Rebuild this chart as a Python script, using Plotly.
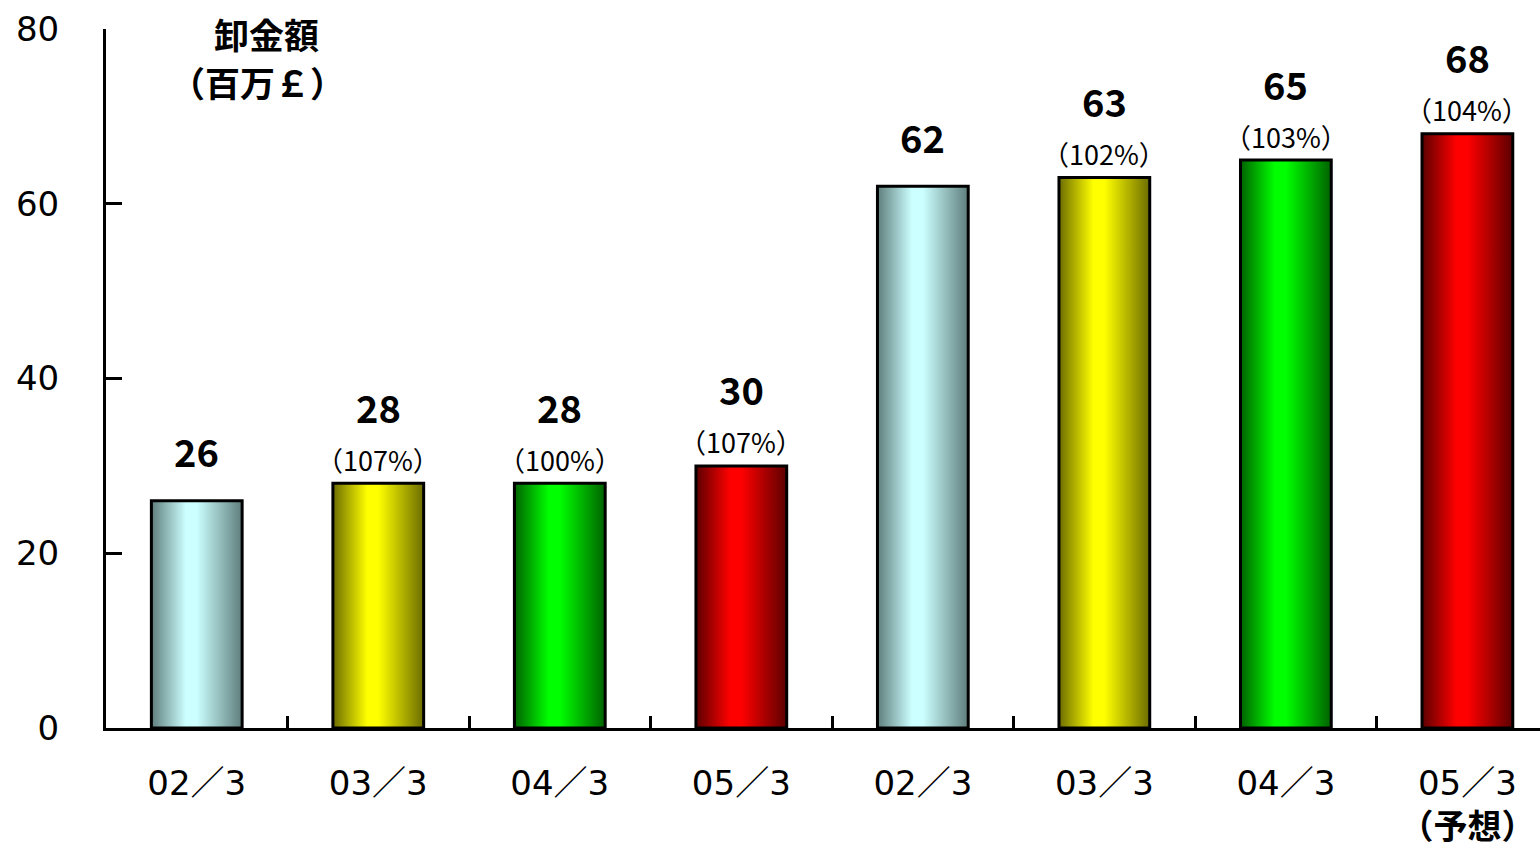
import plotly.graph_objects as go

# Wholesale amount (million GBP) by fiscal year-end, two four-year series
periods = ["02／3", "03／3", "04／3", "05／3", "02／3", "03／3", "04／3", "05／3<br><b>（予想）</b>"]
amounts = [26, 28, 28, 30, 62, 63, 65, 68]
growth_pct = [None, 107, 100, 107, None, 102, 103, 104]

# Dark edge / bright centre for each year's cylinder-style shading
edge_colors = ["#5e7e7c", "#6c6c00", "#006200", "#5c0000"] * 2
core_colors = ["#ccffff", "#ffff00", "#00ff00", "#ff0000"] * 2

BAR_WIDTH = 0.5
NUM_FONT = "Liberation Sans Narrow, Arial Narrow, Noto Sans CJK JP, sans-serif"
CJK_FONT = "Noto Sans CJK JP, sans-serif"
TICK_FONT = "DejaVu Sans, Noto Sans CJK JP, sans-serif"

fig = go.Figure()

for i, (val, edge, core) in enumerate(zip(amounts, edge_colors, core_colors)):
    left, right = i - BAR_WIDTH / 2, i + BAR_WIDTH / 2
    fig.add_trace(go.Scatter(
        x=[left, left, right, right, left],
        y=[0, val, val, 0, 0],
        mode="lines",
        fill="toself",
        fillgradient=dict(
            type="horizontal",
            colorscale=[[0, edge], [0.38, core], [0.5, core], [1, edge]],
        ),
        line=dict(color="black", width=3),
        hoverinfo="skip",
        showlegend=False,
    ))

# Value labels, with year-on-year ratio underneath where available
for i, (val, pct) in enumerate(zip(amounts, growth_pct)):
    if pct is not None:
        fig.add_annotation(
            x=i, y=val, yshift=24, text=f"（{pct}%）", showarrow=False,
            font=dict(family=NUM_FONT, size=27, color="black"),
        )
        num_shift = 77
    else:
        num_shift = 50
    fig.add_annotation(
        x=i, y=val, yshift=num_shift, text=f"<b>{val}</b>", showarrow=False,
        font=dict(family=NUM_FONT, size=38, color="black"),
    )

# Axis caption (two lines)
fig.add_annotation(
    x=0.112, y=1.0, xref="paper", yref="paper", xanchor="center", yanchor="middle",
    yshift=-4, text="<b>卸金額</b>", showarrow=False,
    font=dict(family=CJK_FONT, size=35, color="black"),
)
fig.add_annotation(
    x=0.112, y=1.0, xref="paper", yref="paper", xanchor="center", yanchor="middle",
    yshift=-52, xshift=-9, text="<b>（百万￡）</b>", showarrow=False,
    font=dict(family=CJK_FONT, size=35, color="black"),
)

fig.update_layout(
    width=1540, height=849, autosize=False,
    margin=dict(l=106, r=0, t=29, b=121, autoexpand=False),
    paper_bgcolor="white", plot_bgcolor="white",
    xaxis=dict(
        range=[-0.5, 7.4],
        tickmode="array",
        tickvals=list(range(len(periods))),
        ticktext=periods,
        ticks="",
        automargin=False,
        showgrid=False, zeroline=False,
        showline=True, linecolor="black", linewidth=3,
        tickfont=dict(family=TICK_FONT, size=34, color="black"),
        ticklabelstandoff=23,
        minor=dict(
            tickmode="array",
            tickvals=[i + 0.5 for i in range(len(periods) - 1)],
            ticks="inside", ticklen=12, tickwidth=3, tickcolor="black",
            showgrid=False,
        ),
    ),
    yaxis=dict(
        range=[0, 80], dtick=20,
        automargin=False,
        ticks="inside", ticklen=16, tickwidth=3, tickcolor="black",
        showgrid=False, zeroline=False,
        showline=True, linecolor="black", linewidth=3,
        tickfont=dict(family=TICK_FONT, size=34, color="black"),
        ticklabelstandoff=37,
    ),
)

fig.write_html("out.html")
